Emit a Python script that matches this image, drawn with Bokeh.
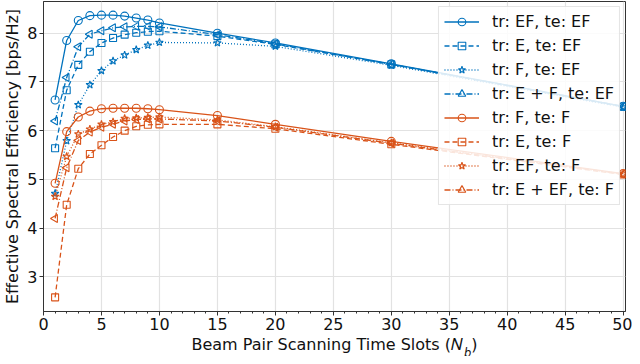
import numpy as np
from bokeh.plotting import figure
from bokeh.models import Range1d, FixedTicker, Label
from bokeh.embed import file_html
from bokeh.resources import INLINE

# ---- data ----
slots = [1, 2, 3, 4, 5, 6, 7, 8, 9, 10, 15, 20, 30, 50]

tr_ef_te_ef = [6.63, 7.85, 8.26, 8.36, 8.37, 8.37, 8.35, 8.31, 8.27, 8.21, 8.00, 7.80, 7.37, 6.50]
tr_e_te_ef = [5.64, 6.83, 7.35, 7.62, 7.80, 7.90, 7.97, 8.01, 8.03, 8.04, 7.94, 7.77, 7.36, 6.49]
tr_f_te_ef = [4.71, 5.79, 6.53, 6.94, 7.23, 7.43, 7.55, 7.66, 7.75, 7.81, 7.80, 7.73, 7.34, 6.48]
tr_ef2_te_ef = [6.20, 7.09, 7.72, 7.98, 8.05, 8.11, 8.13, 8.14, 8.14, 8.13, 7.97, 7.78, 7.36, 6.50]

tr_f_te_f = [4.92, 5.98, 6.28, 6.40, 6.45, 6.46, 6.46, 6.46, 6.45, 6.43, 6.31, 6.13, 5.78, 5.12]
tr_e_te_f = [2.58, 4.48, 5.22, 5.52, 5.70, 5.87, 6.00, 6.09, 6.12, 6.13, 6.13, 6.04, 5.72, 5.10]
tr_ef_te_f = [4.65, 5.47, 5.93, 6.03, 6.13, 6.18, 6.25, 6.26, 6.27, 6.28, 6.22, 6.08, 5.75, 5.11]
tr_eef_te_f = [4.20, 5.24, 5.80, 5.97, 6.07, 6.13, 6.20, 6.23, 6.24, 6.24, 6.20, 6.07, 5.74, 5.11]

series_labels = ["tr: EF, te: EF", "tr: E, te: EF", "tr: F, te: EF", "tr: E + F, te: EF",
                 "tr: F, te: F", "tr: E, te: F", "tr: EF, te: F", "tr: E + EF, te: F"]
series_values = [tr_ef_te_ef, tr_e_te_ef, tr_f_te_ef, tr_ef2_te_ef,
                 tr_f_te_f, tr_e_te_f, tr_ef_te_f, tr_eef_te_f]

x_ticks = [0, 5, 10, 15, 20, 25, 30, 35, 40, 45, 50]
x_minor = list(range(0, 51))
y_ticks = [3, 4, 5, 6, 7, 8]

x_label = "Beam Pair Scanning Time Slots (\U0001D441 \u2009)"
x_label_sub = "b"
y_label = "Effective Spectral Efficiency [bps/Hz]"

# ---- styles ----
BLUE = "#0072BD"
ORANGE = "#D95319"
colors = [BLUE] * 4 + [ORANGE] * 4
markers = ["circle", "square", "star", "triangle"] * 2
angles = [0, 0, 0, np.pi / 2] * 2
sizes = [8, 7, 8, 8] * 2
dashes = ["solid", "5 3", "1 2", "6 2 1 2"] * 2
FONT = "DejaVu Sans"

p = figure(width=632, height=356, output_backend="svg", toolbar_location=None,
           x_range=Range1d(0, 50.2), y_range=Range1d(2.29, 8.65),
           min_border_left=0, min_border_right=0, min_border_top=1, min_border_bottom=0)

for lab, ys, c, m, a, s, d in zip(series_labels, series_values, colors, markers, angles, sizes, dashes):
    p.line(slots, ys, line_color=c, line_width=1.3, line_dash=d, legend_label=lab)
    p.scatter(slots, ys, marker=m, size=s, angle=a, line_color=c, fill_color=None,
              line_width=1.1, legend_label=lab)

p.background_fill_color = "white"
p.border_fill_color = "white"
p.outline_line_color = "#333333"
p.outline_line_width = 1

p.xaxis.ticker = FixedTicker(ticks=x_ticks, minor_ticks=x_minor)
p.yaxis.ticker = FixedTicker(ticks=y_ticks)
for ax in (p.xaxis[0], p.yaxis[0]):
    ax.axis_line_color = "#333333"
    ax.major_tick_line_color = "#333333"
    ax.major_tick_out = 4
    ax.major_tick_in = 0
    ax.major_label_text_font = FONT
    ax.major_label_text_font_size = "16px"
    ax.major_label_text_color = "#111111"
    ax.major_label_standoff = 2
    ax.axis_label_text_font = FONT
    ax.axis_label_text_font_size = "16px"
    ax.axis_label_text_font_style = "normal"
    ax.axis_label_text_color = "#111111"
    ax.axis_label_standoff = 2
p.xaxis.axis_label = x_label
p.yaxis.axis_label = y_label
p.xaxis.minor_tick_line_color = "#333333"
p.xaxis.minor_tick_out = 2
p.xaxis.minor_tick_in = 0
p.yaxis.minor_tick_line_color = None

p.xgrid.ticker = FixedTicker(ticks=x_ticks)
p.ygrid.ticker = FixedTicker(ticks=y_ticks)
p.grid.grid_line_color = "#e2e2e2"
p.grid.grid_line_width = 1.2

lg = p.legend[0]
lg.location = "top_right"
lg.margin = 5
lg.padding = 5
lg.spacing = 5
lg.label_height = 19
lg.glyph_height = 19
lg.glyph_width = 35
lg.label_standoff = 13
lg.label_text_font = FONT
lg.label_text_font_size = "16px"
lg.label_text_color = "#111111"
lg.border_line_color = "#cccccc"
lg.border_line_width = 1
lg.background_fill_alpha = 0.85

# subscript "b" of N_b: placed in the right side panel (not clipped by the frame)
p.add_layout(Label(x=-161.5, y=-41.5, x_units="screen", y_units="screen", text=x_label_sub,
                   text_font=FONT, text_font_style="italic", text_font_size="11.5px",
                   text_color="#111111", text_align="left", text_baseline="alphabetic"), "right")

open("out.html", "w").write(file_html(p, INLINE))
